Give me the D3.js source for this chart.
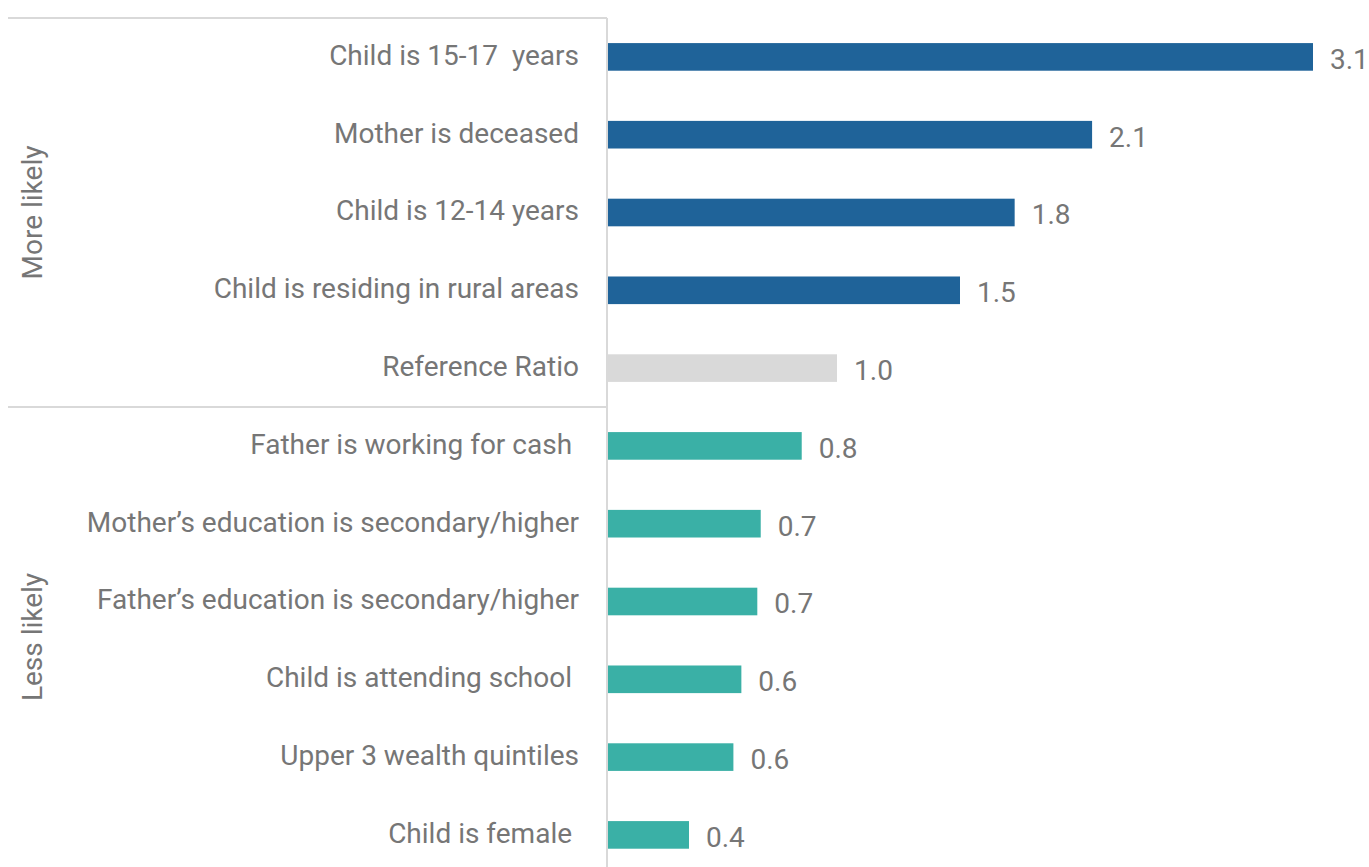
<!DOCTYPE html>
<html lang="en">
<head>
<meta charset="UTF-8">
<title>Odds ratios</title>
<script src="https://d3js.org/d3.v7.min.js"></script>
<style>
    body { margin: 0; background: #fff; }
    svg { display: block; font-family: Roboto, "Noto Sans", sans-serif; }
    text { white-space: pre; }
</style>
</head>
<body>
<svg id="chart" width="1369" height="867"></svg>
<script>
// categories, top to bottom
const categories = [
    "Child is 15-17  years",
    "Mother is deceased",
    "Child is 12-14 years",
    "Child is residing in rural areas",
    "Reference Ratio",
    "Father is working for cash ",
    "Mother\u2019s education is secondary/higher",
    "Father\u2019s education is secondary/higher",
    "Child is attending school ",
    "Upper 3 wealth quintiles",
    "Child is female "
];
// odds ratios
const values = [3.1, 2.13, 1.79, 1.55, 1.01, 0.855, 0.675, 0.66, 0.59, 0.555, 0.36];
// printed labels
const valueLabels = ["3.1", "2.1", "1.8", "1.5", "1.0", "0.8", "0.7", "0.7", "0.6", "0.6", "0.4"];
const groups = ["more", "more", "more", "more", "ref", "less", "less", "less", "less", "less", "less"];
const groupNames = [
    { key: "more", label: "More likely", from: 0, to: 4 },
    { key: "less", label: "Less likely", from: 5, to: 10 }
];

const colors = { more: "#1F6399", ref: "#D9D9D9", less: "#3AB0A6" };
const textColor = "#767676";
const fontSize = "28px";

const svg = d3.select("#chart");
const x0 = 607;
const topY = 18;

const x = d3.scaleLinear().domain([0, 3.1]).range([x0, 1313]);
const y = d3.scaleBand().domain(categories).range([topY, topY + 11 * 77.8]).paddingInner(0.645).paddingOuter(0.3225);

// bars
svg.selectAll(".bar")
    .data(categories)
    .enter().append("rect")
    .attr("class", "bar")
    .attr("x", x(0))
    .attr("y", d => y(d))
    .attr("width", (d, i) => x(values[i]) - x(0))
    .attr("height", y.bandwidth())
    .attr("fill", (d, i) => colors[groups[i]]);

// value labels
svg.selectAll(".val")
    .data(categories)
    .enter().append("text")
    .attr("class", "val")
    .attr("x", (d, i) => x(values[i]) + 17)
    .attr("y", d => y(d) + y.bandwidth() / 2 + 2)
    .attr("dy", "0.35em")
    .attr("fill", textColor)
    .style("font-size", fontSize)
    .text((d, i) => valueLabels[i]);

// category labels
svg.selectAll(".cat")
    .data(categories)
    .enter().append("text")
    .attr("class", "cat")
    .attr("x", 579)
    .attr("y", d => y(d) + y.bandwidth() / 2 - 2)
    .attr("dy", "0.35em")
    .attr("text-anchor", "end")
    .attr("fill", textColor)
    .style("font-size", fontSize)
    .text(d => d);

// frame lines
const step = y.step();
const lineColor = "#D9D9D9";
svg.append("line")
    .attr("x1", x0).attr("x2", x0)
    .attr("y1", topY).attr("y2", 867)
    .attr("stroke", lineColor).attr("stroke-width", 2);
svg.append("line")
    .attr("x1", 8).attr("x2", x0)
    .attr("y1", topY).attr("y2", topY)
    .attr("stroke", lineColor).attr("stroke-width", 2);
const sepY = y(categories[4]) + y.bandwidth() + (step - y.bandwidth()) / 2;
svg.append("line")
    .attr("x1", 8).attr("x2", x0)
    .attr("y1", sepY).attr("y2", sepY)
    .attr("stroke", lineColor).attr("stroke-width", 2);

// group labels
svg.selectAll(".grp")
    .data(groupNames)
    .enter().append("text")
    .attr("class", "grp")
    .attr("transform", d => {
        const a = d.from === 0 ? topY : sepY;
        const b = d.from === 0 ? sepY : 867;
        return "translate(32," + ((a + b) / 2) + ") rotate(-90)";
    })
    .attr("dy", "0.35em")
    .attr("text-anchor", "middle")
    .attr("fill", textColor)
    .style("font-size", fontSize)
    .text(d => d.label);
</script>
</body>
</html>
